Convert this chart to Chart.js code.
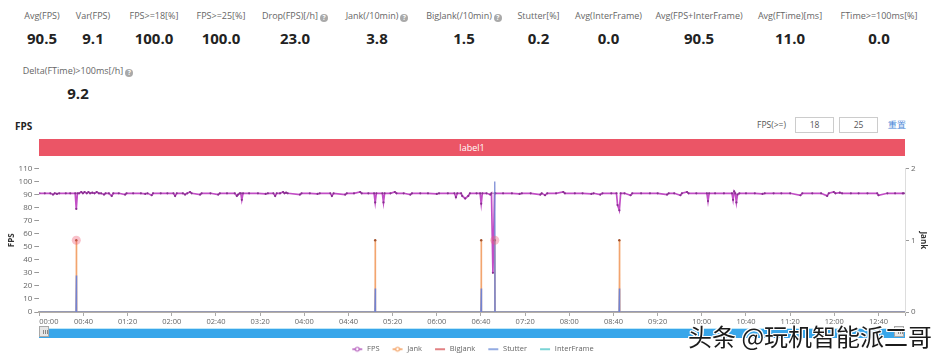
<!DOCTYPE html>
<html><head><meta charset="utf-8">
<script src="https://cdn.jsdelivr.net/npm/chart.js@4.4.1/dist/chart.umd.min.js"></script>
<style>
html,body{margin:0;padding:0;background:#fff;}
body{width:945px;height:359px;position:relative;overflow:hidden;font-family:'Open Sans','Noto Sans',sans-serif;}
.stat{position:absolute;width:160px;text-align:center;}
.lab{font-size:9px;color:#666;white-space:nowrap;line-height:12px;height:12px;}
.val{font-size:15px;font-weight:bold;color:#222;line-height:20px;margin-top:6px;}
.q{display:inline-block;width:8px;height:8px;border-radius:50%;background:#a9a9a9;color:#fff;font-size:6.5px;line-height:8px;text-align:center;font-weight:bold;vertical-align:-1px;margin-left:2px;}
#title{position:absolute;left:15px;top:119px;font-size:10px;font-weight:bold;color:#222;}
#fpsge{position:absolute;left:757px;top:117px;font-size:8.5px;color:#555;line-height:15px;}
.inp{position:absolute;top:117px;width:37px;height:14px;border:1px solid #ccc;font-size:8.5px;color:#555;text-align:center;line-height:14px;}
#reset{position:absolute;left:888px;top:117px;font-size:8.5px;color:#3c7fd6;line-height:15px;}
#bar{position:absolute;left:39px;top:139px;width:866px;height:17px;background:#eb5566;color:#fff;font-size:9px;text-align:center;line-height:17px;}
#cv{position:absolute;left:0;top:160px;}
#slider{position:absolute;left:39px;top:328px;width:866px;height:9px;background:#38a6ea;border-top:1px solid #bfe7f8;}
.hd{position:absolute;top:326px;width:10px;height:11px;background:#e6e6e6;border:1px solid #a8a8a8;box-sizing:border-box;}
.hd i{position:absolute;top:3px;width:1px;height:4px;background:#888;}
#wm{position:absolute;left:688px;top:318px;font-family:'Noto Sans CJK SC',sans-serif;font-size:24px;color:#1b1b1b;white-space:nowrap;
text-shadow:1px 1px 0 #fff,-1px -1px 0 #fff,1px -1px 0 #fff,-1px 1px 0 #fff,0 1px 0 #fff,0 -1px 0 #fff,1px 0 0 #fff,-1px 0 0 #fff;}
</style></head>
<body>
<div class="stat" style="left:-38px;top:10px"><div class="lab">Avg(FPS)</div><div class="val">90.5</div></div>
<div class="stat" style="left:13px;top:10px"><div class="lab">Var(FPS)</div><div class="val">9.1</div></div>
<div class="stat" style="left:74px;top:10px"><div class="lab">FPS&gt;=18[%]</div><div class="val">100.0</div></div>
<div class="stat" style="left:141px;top:10px"><div class="lab">FPS&gt;=25[%]</div><div class="val">100.0</div></div>
<div class="stat" style="left:215px;top:10px"><div class="lab">Drop(FPS)[/h]<span class="q">?</span></div><div class="val">23.0</div></div>
<div class="stat" style="left:297px;top:10px"><div class="lab">Jank(/10min)<span class="q">?</span></div><div class="val">3.8</div></div>
<div class="stat" style="left:384px;top:10px"><div class="lab">BigJank(/10min)<span class="q">?</span></div><div class="val">1.5</div></div>
<div class="stat" style="left:458.5px;top:10px"><div class="lab">Stutter[%]</div><div class="val">0.2</div></div>
<div class="stat" style="left:528.5px;top:10px"><div class="lab">Avg(InterFrame)</div><div class="val">0.0</div></div>
<div class="stat" style="left:619px;top:10px"><div class="lab">Avg(FPS+InterFrame)</div><div class="val">90.5</div></div>
<div class="stat" style="left:710px;top:10px"><div class="lab">Avg(FTime)[ms]</div><div class="val">11.0</div></div>
<div class="stat" style="left:799px;top:10px"><div class="lab">FTime&gt;=100ms[%]</div><div class="val">0.0</div></div>
<div class="stat" style="left:-2px;top:65px"><div class="lab">Delta(FTime)&gt;100ms[/h]<span class="q">?</span></div><div class="val" style="margin-top:6px">9.2</div></div>

<div id="title">FPS</div>
<div id="fpsge">FPS(&gt;=)</div>
<div class="inp" style="left:795px">18</div>
<div class="inp" style="left:839px">25</div>
<div id="reset">重置</div>
<div id="bar">label1</div>
<canvas id="cv" width="945" height="203"></canvas>
<div id="slider"></div>
<div class="hd" style="left:39px"><i style="left:3px"></i><i style="left:5px"></i><i style="left:7px"></i></div>
<div class="hd" style="left:894px"><i style="left:3px"></i><i style="left:5px"></i><i style="left:7px"></i></div>
<div id="wm">头条 @玩机智能派二哥</div>

<script>
// ---- data (seconds, values) ----
const durationSec = 784;
const xTickSeconds = [0,40,80,120,160,200,240,280,320,360,400,440,480,520,560,600,640,680,720,760];
const xTickLabels = ['00:00','00:40','01:20','02:00','02:40','03:20','04:00','04:40','05:20','06:00','06:40','07:20','08:00','08:40','09:20','10:00','10:40','11:20','12:00','12:40'];

const fpsTime = [0,5,10,12.4,14,16,18,24,28,32.5,33.5,34.5,36,38,39.5,41,43,44.5,46,48,50,52,54,56,58.6,60,63,65.6,67,72,77.7,79,85,92,96,98,101.8,103,110,116,121.5,123,124.5,130,132,134,136.5,138,145.6,147,155,162,163.5,170,177,178.9,180,181.5,182.5,183.4,184.5,190,198,205,207,212,213.6,215,218,220.8,222,223.5,225,236,237.5,245,252,254,263.5,265,266.5,277,278.5,285,290.6,292,298,303.2,304.2,305.2,310.7,311.7,312.7,318,322,323.5,330,336,337.5,345,352,360,362,370,376,377.3,378.5,382,383,385.7,388.5,390,396,399.2,400.2,401.2,405,408.4,409.5,410.8,412.3,413,420,428,435,437,445,453.7,455,458,460,468,474.5,476,485,492,500,502,508,510,518,522.7,523.7,525.3,526.5,530,535.5,537,545,553,560,568.5,570,575,580.6,582,586.6,588,595,604.6,605.6,606.6,612,620,627.3,628.3,629.3,630.3,631.3,632.3,634,640,648,655,657,665,672,680,689.3,691,700,708,713.5,715,719.5,721,725,727,735,742,750,758.8,760,768,775,782,783];
const fpsValue = [91,91,91,90,91,90.5,91,91,91,91,79,91,91,92,91,92,91,92,91,91.5,91,92,91,91,90,91,91,89,91,91,90,91,91,91,90.5,91,89.5,91,91,91,91,89,91,91,90,91,92,91,90,91,91,90,91,91,91,89,90,91,91,86,91,91,91,90.5,91,91,89,91,91,92,91,91.5,91,90,91,91,90.5,91,91,89,91,90,91,91,92,91,91,91,84,91,91,84,91,91,92,91,91,90,91,91,91,90.5,91,91,91,88,91,91,89,87,89,91,91,91,83,91,91,90,91,30,91,91,91,91,90.5,91,91,90,91,89.5,91,91,92,91,91,91,90.5,91,90,91,91,91,82,78,91,91,89.5,91,91,91,91,90,91,91,89.5,91,92,91,91,91,85,91,91,91,91,86,92.4,91,84,90,91,91,91,90.5,91,91,91,91,89.5,91,91,91,89,91,92,91,91.5,91,91,91,91,91,89.5,91,91,91,91,87];

const jankTime = [33.5,304.2,400.2,412.5,525.3];
const jankValue = [1,1,1,1,1];
const bigJankTime = [33.5,412.5];
const bigJankValue = [1,1];
const stutterTime = [33.5,304.2,400.2,412.5,525.3];
const stutterValue = [28,18,18,100,18];
const interFrameTime = [0,784];
const interFrameValue = [0,0];

const legendNames = ['FPS','Jank','BigJank','Stutter','InterFrame'];
const legendColors = ['#b45cbc','#f3a062','#d9575a','#6f8fd8','#4fc6c8'];

// ---- build library data ----
const pairs = (ts, vs) => ts.map((t,i)=>({x:t,y:vs[i]}));
function spikes(ts, vs){
  const pts=[{x:0,y:0}];
  ts.forEach((t,i)=>{pts.push({x:t-0.35,y:0},{x:t,y:vs[i]},{x:t+0.35,y:0});});
  pts.push({x:durationSec,y:0});
  return pts;
}
function icon(color, dot){
  const c=document.createElement('canvas'); c.width=12; c.height=8;
  const g=c.getContext('2d');
  g.strokeStyle=color; g.lineWidth=1.5;
  g.beginPath(); g.moveTo(1,4); g.lineTo(11,4); g.stroke();
  if(dot){ g.beginPath(); g.arc(6,4,2,0,Math.PI*2); g.fillStyle='#fff'; g.fill(); g.lineWidth=1.2; g.stroke(); }
  return c;
}
const icons = legendColors.map((c,i)=>icon(c, i<2));

Chart.defaults.font.family = "'Open Sans','Noto Sans',sans-serif";
Chart.defaults.color = '#666';

new Chart(document.getElementById('cv'), {
  type:'line',
  data:{datasets:[
    {label:legendNames[0], data:pairs(fpsTime,fpsValue), yAxisID:'y', borderColor:'#c24ec6', borderWidth:1.7,
      pointRadius:1.1, pointBackgroundColor:'#86308e', pointBorderWidth:0, order:3},
    {label:legendNames[1], data:spikes(jankTime,jankValue), yAxisID:'y1', borderColor:'#f2a56f', borderWidth:1,
      pointRadius:c=>(c.raw && c.raw.y>0)?1.2:0, pointBackgroundColor:'#a3522c', pointBorderWidth:0, order:2},
    {label:legendNames[2], data:pairs(bigJankTime,bigJankValue), yAxisID:'y1', showLine:false, borderColor:legendColors[2],
      pointRadius:4.5, pointBackgroundColor:'rgba(238,92,115,0.38)', pointBorderWidth:0, order:0},
    {label:legendNames[3], data:spikes(stutterTime,stutterValue), yAxisID:'y', borderColor:'#7183d2', borderWidth:1.2,
      pointRadius:0, order:1},
    {label:legendNames[4], data:pairs(interFrameTime,interFrameValue), yAxisID:'y', borderColor:legendColors[4], borderWidth:1.2,
      pointRadius:0, order:4}
  ]},
  options:{
    responsive:false, animation:false, events:[],
    layout:{padding:{top:8.5,left:0,right:0,bottom:0}},
    elements:{line:{tension:0}},
    plugins:{
      tooltip:{enabled:false},
      legend:{position:'bottom', align:'center',
        labels:{usePointStyle:true, pointStyleWidth:12, padding:12, color:'#666', font:{size:7.5},
          generateLabels:(chart)=>legendNames.map((n,i)=>({text:n, pointStyle:icons[i], fillStyle:legendColors[i], strokeStyle:legendColors[i], lineWidth:0, hidden:false, datasetIndex:i, fontColor:'#666'}))
        }
      }
    },
    scales:{
      x:{type:'linear', min:0, max:durationSec, z:1,
        afterBuildTicks:(s)=>{ s.ticks = xTickSeconds.map(v=>({value:v})).concat([{value:durationSec}]); },
        afterFit:(s)=>{ s.height = 21.5; },
        ticks:{autoSkip:false, maxRotation:0, minRotation:0, align:'inner', padding:1, color:'#666', font:{size:7.5},
          callback:(v)=>{ const k=xTickSeconds.indexOf(v); return k>=0?xTickLabels[k]:''; }},
        grid:{drawOnChartArea:false, drawTicks:true, tickLength:4, color:'#aaa'},
        border:{display:true, color:'#b5afa8', width:2}
      },
      y:{position:'left', min:0, max:110,
        afterFit:(s)=>{ s.width = 39.3; },
        ticks:{stepSize:10, padding:2, color:'#666', font:{size:8}},
        grid:{drawOnChartArea:false, drawTicks:true, tickLength:5, color:'#999'},
        border:{display:false},
        title:{display:true, text:'FPS', color:'#333', font:{size:8, weight:'bold'}, padding:{top:7,bottom:0}}
      },
      y1:{position:'right', min:0, max:2,
        afterFit:(s)=>{ s.width = 40; },
        ticks:{stepSize:1, padding:2, color:'#666', font:{size:8}},
        grid:{drawOnChartArea:false, drawTicks:true, tickLength:4, color:'#999'},
        border:{display:true, color:'#ddd', width:1},
        title:{display:true, text:'Jank', color:'#333', font:{size:8, weight:'bold'}, padding:{top:17,bottom:0}}
      }
    }
  }
});
</script>
</body></html>
